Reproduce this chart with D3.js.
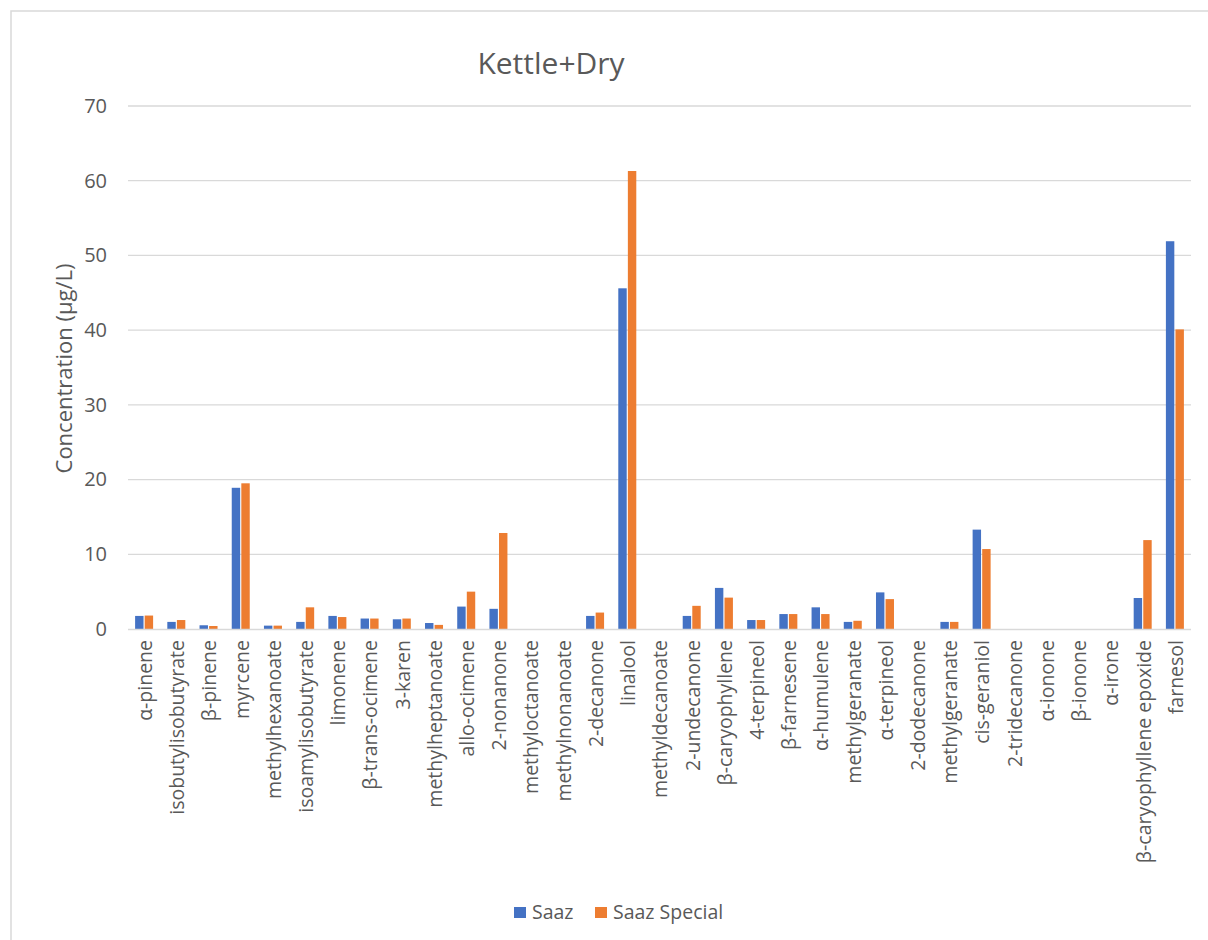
<!DOCTYPE html>
<html>
<head>
<meta charset="utf-8">
<script src="https://cdn.jsdelivr.net/npm/d3@7"></script>
<style>
  html, body { margin: 0; padding: 0; background: #fff; }
  svg { display: block; }
  text { font-family: "Open Sans", "Noto Sans", sans-serif; fill: #595959; }
</style>
</head>
<body>
<svg id="chart" width="1208" height="940"></svg>
<script>
// Compounds measured (x categories)
const compounds = [
  "α-pinene", "isobutylisobutyrate", "β-pinene", "myrcene", "methylhexanoate",
  "isoamylisobutyrate", "limonene", "β-trans-ocimene", "3-karen", "methylheptanoate",
  "allo-ocimene", "2-nonanone", "methyloctanoate", "methylnonanoate", "2-decanone",
  "linalool", "methyldecanoate", "2-undecanone", "β-caryophyllene", "4-terpineol",
  "β-farnesene", "α-humulene", "methylgeranate", "α-terpineol", "2-dodecanone",
  "methylgeranate ", "cis-geraniol", "2-tridecanone", "α-ionone", "β-ionone",
  "α-irone", "β-caryophyllene epoxide", "farnesol"
];

// Concentrations (µg/L)
const saaz = [
  1.75, 0.95, 0.5, 18.9, 0.45,
  0.95, 1.75, 1.4, 1.3, 0.8,
  3.0, 2.7, 0, 0, 1.75,
  45.6, 0, 1.75, 5.5, 1.2,
  2.0, 2.9, 0.95, 4.9, 0,
  0.95, 13.3, 0, 0, 0,
  0, 4.15, 51.9
];
const saazSpecial = [
  1.8, 1.2, 0.4, 19.5, 0.45,
  2.9, 1.6, 1.4, 1.4, 0.55,
  5.0, 12.85, 0, 0, 2.2,
  61.3, 0, 3.1, 4.2, 1.2,
  2.0, 2.0, 1.1, 4.0, 0,
  0.95, 10.7, 0, 0, 0,
  0, 11.9, 40.1
];

const seriesNames = ["Saaz", "Saaz Special"];
const seriesColors = ["#4472C4", "#ED7D31"];
const yTicks = [0, 10, 20, 30, 40, 50, 60, 70];

const svg = d3.select("#chart");
const FONT = "\"Open Sans\", \"Noto Sans\", sans-serif";

// Chart frame
svg.append("rect")
  .attr("x", 11).attr("y", 11)
  .attr("width", 1220).attr("height", 960)
  .attr("fill", "#fff").attr("stroke", "#d9d9d9").attr("stroke-width", 1.5);

const plot = { left: 128, right: 1191, top: 106, bottom: 629 };

const x = d3.scaleBand()
  .domain(d3.range(compounds.length))
  .range([plot.left, plot.right])
  .paddingInner(0).paddingOuter(0);

const y = d3.scaleLinear()
  .domain([0, 70])
  .range([plot.bottom, plot.top]);

const inner = d3.scaleBand()
  .domain(seriesNames)
  .range([x.bandwidth() / 2 - 9, x.bandwidth() / 2 + 9])
  .paddingInner(0.12);

// Horizontal gridlines
svg.append("g")
  .selectAll("line")
  .data(yTicks.filter(t => t > 0))
  .join("line")
  .attr("x1", plot.left).attr("x2", plot.right)
  .attr("y1", d => y(d)).attr("y2", d => y(d))
  .attr("stroke", "#d9d9d9").attr("stroke-width", 1.3);

// Y axis tick labels
const yAxis = d3.axisLeft(y).tickValues(yTicks).tickSize(0).tickPadding(0);
const yg = svg.append("g")
  .attr("transform", `translate(${plot.left - 21},0)`)
  .call(yAxis);
yg.select(".domain").remove();
yg.selectAll("text")
  .attr("font-size", 20)
  .attr("fill", "#595959")
  .attr("font-family", FONT);

// Bars
const data = compounds.map((c, i) => ({ i, vals: [saaz[i], saazSpecial[i]] }));
const groups = svg.append("g")
  .selectAll("g")
  .data(data)
  .join("g")
  .attr("transform", d => `translate(${x(d.i)},0)`);

groups.selectAll("rect")
  .data(d => d.vals.map((v, k) => ({ v, k })))
  .join("rect")
  .attr("x", d => inner(seriesNames[d.k]))
  .attr("width", inner.bandwidth())
  .attr("y", d => y(d.v))
  .attr("height", d => y(0) - y(d.v))
  .attr("fill", d => seriesColors[d.k]);

// X axis baseline
svg.append("line")
  .attr("x1", plot.left).attr("x2", plot.right)
  .attr("y1", y(0) + 0.5).attr("y2", y(0) + 0.5)
  .attr("stroke", "#d9d9d9").attr("stroke-width", 1.5);

// Rotated category labels
const xAxis = d3.axisBottom(x).tickFormat(i => compounds[i].trim()).tickSize(0).tickPadding(0);
const xg = svg.append("g")
  .attr("transform", `translate(0,${plot.bottom})`)
  .call(xAxis);
xg.select(".domain").remove();
xg.selectAll("text")
  .attr("font-size", 19.5)
  .attr("fill", "#595959")
  .attr("font-family", FONT)
  .attr("transform", "rotate(-90)")
  .attr("text-anchor", "end")
  .attr("x", -11)
  .attr("y", 1)
  .attr("dy", "0.35em");

// Title
svg.append("text")
  .attr("x", 551).attr("y", 74)
  .attr("text-anchor", "middle")
  .attr("font-size", 30)
  .text("Kettle+Dry");

// Y axis title
svg.append("text")
  .attr("transform", `translate(72,${(plot.top + plot.bottom) / 2 + 1}) rotate(-90)`)
  .attr("text-anchor", "middle")
  .attr("font-size", 22)
  .text("Concentration (µg/L)");

// Legend
const legend = svg.append("g").attr("transform", "translate(514,907)");
const legendX = [0, 81];
seriesNames.forEach((name, k) => {
  const g = legend.append("g").attr("transform", `translate(${legendX[k]},0)`);
  g.append("rect").attr("width", 12).attr("height", 11).attr("fill", seriesColors[k]);
  g.append("text").attr("x", 18).attr("y", 12).attr("font-size", 19.5).text(name);
});
</script>
</body>
</html>
